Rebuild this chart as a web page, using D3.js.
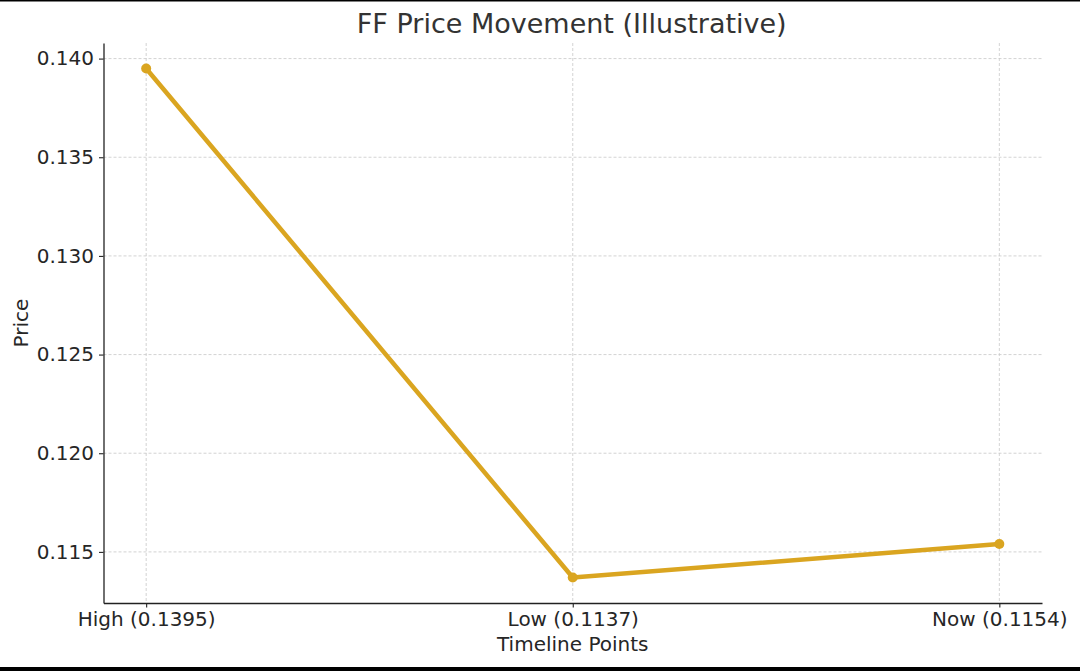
<!DOCTYPE html>
<html><head><meta charset="utf-8">
<script src="https://cdn.jsdelivr.net/npm/d3@7"></script>
<style>
html,body{margin:0;padding:0;background:#fff;}
svg{display:block;font-family:"DejaVu Sans",sans-serif;}
</style></head>
<body>
<svg id="chart" width="1080" height="671"></svg>
<script>
const categories = ["High (0.1395)", "Low (0.1137)", "Now (0.1154)"];
const prices = [0.1395, 0.1137, 0.1154];
const yTicks = [0.115, 0.120, 0.125, 0.130, 0.135, 0.140];
const title = "FF Price Movement (Illustrative)";
const xLabel = "Timeline Points";
const yLabel = "Price";

const svg = d3.select("#chart");
const W = 1080, H = 671;
const m = {left: 103.5, right: 1042, top: 43, bottom: 603};

// black frame bars at top and bottom
svg.append("rect").attr("x",0).attr("y",0).attr("width",W).attr("height",1.5).attr("fill","#000");
svg.append("rect").attr("x",0).attr("y",667).attr("width",W).attr("height",4).attr("fill","#000");

const n = categories.length;
const x = d3.scaleLinear().domain([-0.1, n - 1 + 0.1]).range([m.left, m.right]);
const ymin = d3.min(prices), ymax = d3.max(prices), pad = (ymax - ymin) * 0.05;
const y = d3.scaleLinear().domain([ymin - pad, ymax + pad]).range([m.bottom, m.top]);

// grid
const g = svg.append("g");
g.selectAll("line.gy").data(yTicks).join("line")
  .attr("x1", m.left).attr("x2", m.right)
  .attr("y1", d => y(d)).attr("y2", d => y(d))
  .attr("stroke", "#c8c8c8").attr("stroke-width", 0.8).attr("stroke-dasharray", "3,2");
g.selectAll("line.gx").data(categories).join("line")
  .attr("x1", (d,i) => x(i)).attr("x2", (d,i) => x(i))
  .attr("y1", m.top).attr("y2", m.bottom)
  .attr("stroke", "#c8c8c8").attr("stroke-width", 0.8).attr("stroke-dasharray", "3,2");

// axes
const yAxis = d3.axisLeft(y).tickValues(yTicks).tickFormat(d3.format(".3f")).tickSizeInner(4.5).tickSizeOuter(0).tickPadding(5);
const ya = svg.append("g").attr("transform", `translate(${m.left},0)`).call(yAxis);
const xAxis = d3.axisBottom(x).tickValues(d3.range(n)).tickFormat(i => categories[i]).tickSizeInner(4.5).tickSizeOuter(0).tickPadding(4);
const xa = svg.append("g").attr("transform", `translate(0,${m.bottom})`).call(xAxis);
[ya, xa].forEach(a => {
  a.select(".domain").attr("stroke", "#222").attr("stroke-width", 1.3);
  a.selectAll(".tick line").attr("stroke", "#222").attr("stroke-width", 1.1);
  a.selectAll(".tick text").attr("fill", "#262626").style("font-size", "20px").style("font-family", "DejaVu Sans");
});

// line
const line = d3.line().x((d,i) => x(i)).y(d => y(d));
svg.append("path").datum(prices).attr("d", line)
  .attr("fill", "none").attr("stroke", "#DAA520").attr("stroke-width", 4.5)
  .attr("stroke-linejoin", "round").attr("stroke-linecap", "round");
svg.selectAll("circle.pt").data(prices).join("circle")
  .attr("cx", (d,i) => x(i)).attr("cy", d => y(d)).attr("r", 5)
  .attr("fill", "#DAA520");

// labels
svg.append("text").attr("x", (m.left + m.right)/2 - 1).attr("y", 33).attr("text-anchor", "middle")
  .attr("fill", "#333").style("font-size", "27px").text(title);
svg.append("text").attr("x", (m.left + m.right)/2).attr("y", 651).attr("text-anchor", "middle")
  .attr("fill", "#262626").style("font-size", "20px").text(xLabel);
svg.append("text").attr("transform", `translate(28,${(m.top+m.bottom)/2}) rotate(-90)`).attr("text-anchor", "middle")
  .attr("fill", "#262626").style("font-size", "20px").text(yLabel);
</script>
</body></html>
